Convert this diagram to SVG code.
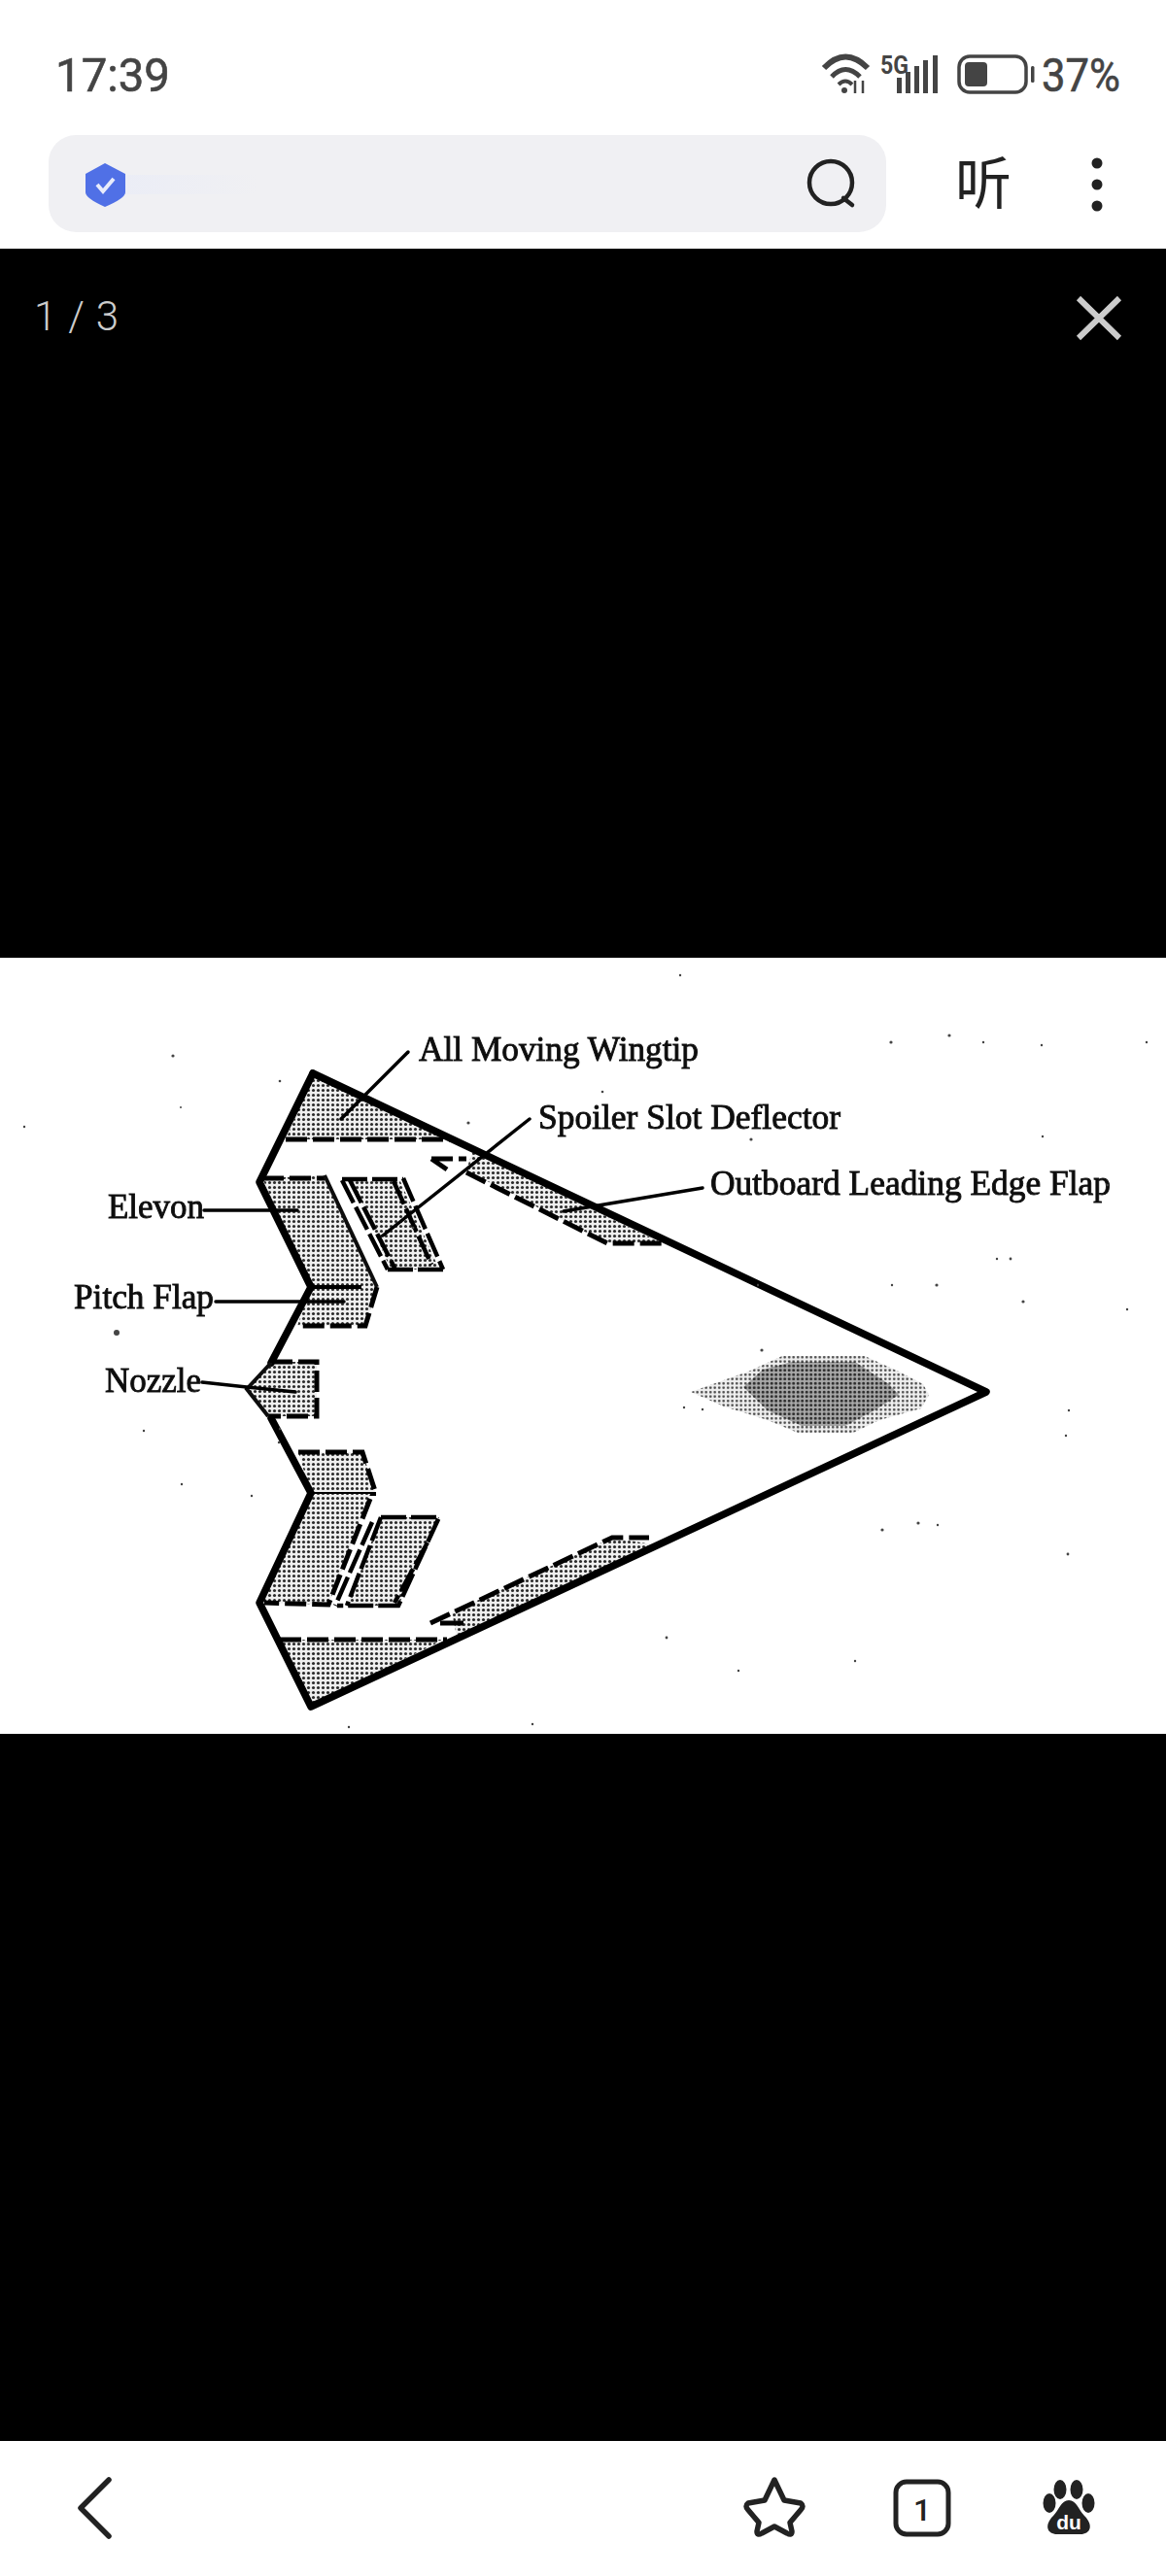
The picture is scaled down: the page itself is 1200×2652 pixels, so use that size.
<svg xmlns="http://www.w3.org/2000/svg" width="1200" height="2652" viewBox="0 0 1200 2652">
<style>
.ui{font-family:"Roboto","Liberation Sans",sans-serif}
.st{font-size:49px;fill:#444;stroke:#444;stroke-width:.6px}
.lab{font-family:"Liberation Serif","Times New Roman",serif;font-size:36px;fill:#111;stroke:#111;stroke-width:.9px}
.edge{fill:none;stroke:#000;stroke-width:7.5;stroke-linejoin:round;stroke-linecap:round}
.dash{fill:none;stroke:#000;stroke-width:5;stroke-dasharray:22 6}
.dash2{fill:none;stroke:#000;stroke-width:4.5;stroke-dasharray:26 5}
.shade{fill:url(#dots)}
.lead{fill:none;stroke:#000;stroke-width:3.5;stroke-linecap:round}
.ic{fill:none;stroke:#222;stroke-linecap:round;stroke-linejoin:round}
.sp{fill:#444}
</style>
<defs>
<pattern id="dots" width="5" height="5" patternUnits="userSpaceOnUse">
<rect width="5" height="5" fill="#efefef"/>
<circle cx="2.5" cy="2.5" r="1.55" fill="#2a2a2a"/>
</pattern>
<pattern id="dark" width="4.5" height="4.5" patternUnits="userSpaceOnUse">
<rect width="4.5" height="4.5" fill="#a8a8a8"/>
<circle cx="2.2" cy="2.2" r="1.5" fill="#2a2a2a"/>
</pattern>
<pattern id="lite" width="4.5" height="4.5" patternUnits="userSpaceOnUse">
<rect width="4.5" height="4.5" fill="#efefef"/>
<circle cx="2.2" cy="2.2" r="1.3" fill="#444"/>
</pattern>
<linearGradient id="barfade" x1="0" x2="1" y1="0" y2="0">
<stop offset="0" stop-color="#ebedf6"/>
<stop offset="1" stop-color="#f0f0f3"/>
</linearGradient>
<filter id="soft" x="-2%" y="-2%" width="104%" height="104%"><feGaussianBlur stdDeviation=".7"/></filter>
</defs>

<rect width="1200" height="2652" fill="#fff"/>
<rect y="256" width="1200" height="730" fill="#000"/>
<rect y="1785" width="1200" height="728" fill="#000"/>

<g id="status-bar">
<text class="ui st" x="57" y="94" textLength="118" lengthAdjust="spacingAndGlyphs">17:39</text>
<g id="wifi">
<path d="M848 70 Q870 47 893 70" stroke="#444" stroke-width="6" fill="none"/>
<path d="M856 79 Q870 64 885 79" stroke="#444" stroke-width="5" fill="none"/>
<path d="M863 87 Q870 80 877 87" stroke="#444" stroke-width="4" fill="none"/>
<circle cx="869" cy="93" r="3" fill="#444"/>
<path d="M880 83 V96 M888 83 V96" stroke="#444" stroke-width="2.5"/>
</g>
<text x="906" y="76" font-family="'Roboto',sans-serif" font-weight="700" font-size="26" fill="#444" textLength="29" lengthAdjust="spacingAndGlyphs">5G</text>
<g id="signal" fill="#444">
<rect x="923" y="80" width="5" height="16"/><rect x="932" y="74" width="5" height="22"/><rect x="941" y="68" width="5" height="28"/><rect x="950" y="62" width="5" height="34"/><rect x="960" y="57" width="5" height="39"/>
</g>
<g id="battery">
<rect x="987" y="58" width="69" height="37" rx="11" fill="none" stroke="#444" stroke-width="3.5"/>
<rect x="993" y="64" width="23" height="25" rx="4" fill="#444"/>
<rect x="1061" y="68" width="3.5" height="17" rx="1.5" fill="#444"/>
</g>
<text class="ui st" x="1072" y="94" textLength="81" lengthAdjust="spacingAndGlyphs">37%</text>
</g>

<g id="address-bar">
<rect x="50" y="139" width="862" height="100" rx="28" fill="#f0f0f3"/>
<rect x="125" y="180" width="140" height="20" fill="url(#barfade)"/>
<path d="M108 168 L129 179 V198 Q129 204 108 213 Q88 204 88 198 V179 Z" fill="#5070e6"/>
<path d="M100 190 L106 197 L117 184" fill="none" stroke="#e8ecfb" stroke-width="4"/>
<g class="ic" stroke-width="4.5"><ellipse cx="855" cy="188" rx="22" ry="22"/><path d="M868 204 L877 211"/></g>
<text x="1012" y="210" font-family="'Noto Sans CJK SC',sans-serif" font-size="58" text-anchor="middle" fill="#222">听</text>
<g fill="#222"><circle cx="1129" cy="168" r="5.5"/><circle cx="1129" cy="190" r="5.5"/><circle cx="1129" cy="212" r="5.5"/></g>
</g>

<g id="viewer-top">
<text class="ui" x="35" y="340" font-size="42" fill="#ccc" font-weight="300" textLength="87">1 / 3</text>
<path d="M1110 307 L1152 348 M1152 307 L1110 348" stroke="#ccc" stroke-width="6" fill="none"/>
</g>

<g id="figure" filter="url(#soft)">
<g id="fuselage-blob">
<path style="fill:url(#lite)" d="M711 1433 L770 1412 L805 1396 H890 L925 1412 L950 1425 L956 1436 L948 1450 L905 1462 L878 1475 H821 L790 1462 L745 1448 Z"/>
<path style="fill:url(#dark)" d="M765 1428 L785 1410 L815 1402 H880 L915 1425 L925 1436 L900 1452 L870 1468 H825 L790 1452 Z"/>
</g>

<g id="all-moving-wingtip-top">
<path class="shade" d="M322 1108 L294 1173 H465 Z"/>
<path class="dash" d="M294 1173 H468"/>
</g>
<g id="outboard-flap-top">
<path class="shade" d="M486 1186 L480 1205 L625 1280 H682 Z"/>
<path class="dash" d="M444 1193 H480 M444 1193 L460 1204 M480 1207 L625 1280 H682"/>
</g>
<g id="elevon-top">
<path class="shade" d="M270 1213 L334 1210 L388 1325 H320 Z"/>
<path class="dash" d="M270 1213 H334"/>
<path d="M334 1210 L388 1325" fill="none" stroke="#111" stroke-width="4"/>
</g>
<g id="spoiler-top">
<path class="shade" d="M363 1216 H412 L452 1307 H402 Z"/>
<path class="dash2" d="M352 1215 L399 1307 M360 1215 L407 1307 M352 1214 H415 M415 1213 L456 1307 M405 1216 L444 1302 M399 1307 H456"/>
</g>
<g id="pitch-flap-top">
<path class="shade" d="M320 1325 H388 L376 1365 H306 Z"/>
<path class="dash" d="M388 1325 L376 1365 H306"/>
<path d="M320 1325 H372" stroke="#000" stroke-width="4"/>
</g>
<g id="nozzle">
<path class="shade" d="M254 1430 L279 1402 H326 V1458 H276 Z"/>
<path class="dash" d="M279 1402 H326 V1458 H276"/>
</g>
<g id="pitch-flap-bottom">
<path class="shade" d="M307 1495 H373 L387 1538 H320 Z"/>
<path class="dash" d="M307 1495 H373 L387 1538"/>
<path d="M320 1538 H387" stroke="#000" stroke-width="4"/>
</g>
<g id="elevon-bottom">
<path class="shade" d="M320 1538 H381 L338 1652 L267 1650 Z"/>
<path class="dash" d="M381 1543 L338 1652 L272 1650"/>
</g>
<g id="spoiler-bottom">
<path class="shade" d="M392 1562 H452 L410 1653 H357 Z"/>
<path class="dash2" d="M392 1562 H452 L410 1653 H347 M392 1562 L357 1653 M383 1567 L345 1653 M440 1588 L406 1650"/>
</g>
<g id="all-moving-wingtip-bottom">
<path class="shade" d="M288 1688 H457 L320 1755 Z"/>
<path class="dash" d="M288 1688 H460"/>
</g>
<g id="outboard-flap-bottom">
<path class="shade" d="M470 1684 L465 1660 L630 1583 L672 1590 Z"/>
<path class="dash" d="M443 1671 L630 1583 H668"/>
<path d="M453 1671 H477" stroke="#000" stroke-width="5"/>
</g>

<g id="aircraft-outline">
<path class="edge" d="M322 1105 L1015 1433 L320 1757 L267 1650 L320 1537 L279 1460"/>
<path class="edge" d="M279 1403 L320 1325 L267 1217 L322 1105"/>
<path d="M279 1403 L254 1430 L276 1458" fill="none" stroke="#111" stroke-width="4"/>
</g>

<g id="connectors">
<path class="lead" d="M420 1083 L351 1152"/>
<path class="lead" d="M545 1152 L394 1272"/>
<path class="lead" d="M723 1223 L580 1247"/>
<path class="lead" d="M210 1246 H306"/>
<path class="lead" d="M222 1340 H354"/>
<path class="lead" d="M208 1423 L254 1428 L304 1433"/>
</g>

<g id="labels">
<g id="label-wingtip"><text class="lab" x="431" y="1092" textLength="288" lengthAdjust="spacingAndGlyphs">All Moving Wingtip</text></g>
<g id="label-spoiler"><text class="lab" x="554" y="1162" textLength="311" lengthAdjust="spacingAndGlyphs">Spoiler Slot Deflector</text></g>
<g id="label-flap"><text class="lab" x="731" y="1230" textLength="412" lengthAdjust="spacingAndGlyphs">Outboard Leading Edge Flap</text></g>
<g id="label-elevon"><text class="lab" x="111" y="1254" textLength="99" lengthAdjust="spacingAndGlyphs">Elevon</text></g>
<g id="label-pitch"><text class="lab" x="76" y="1347" textLength="144" lengthAdjust="spacingAndGlyphs">Pitch Flap</text></g>
<g id="label-nozzle"><text class="lab" x="108" y="1433" textLength="99" lengthAdjust="spacingAndGlyphs">Nozzle</text></g>
</g>

<g id="specks" class="sp">
<circle cx="178" cy="1087" r="1.6"/><circle cx="288" cy="1113" r="1.3"/><circle cx="186" cy="1140" r="1"/><circle cx="120" cy="1372" r="3"/><circle cx="482" cy="1156" r="1.6"/><circle cx="425" cy="1264" r="1.3"/><circle cx="620" cy="1124" r="1.3"/><circle cx="773" cy="1173" r="1.6"/><circle cx="917" cy="1073" r="1.6"/><circle cx="977" cy="1066" r="1.6"/><circle cx="1012" cy="1073" r="1.2"/><circle cx="1072" cy="1076" r="1.2"/><circle cx="1180" cy="1073" r="1.2"/><circle cx="1073" cy="1170" r="1.2"/><circle cx="1040" cy="1296" r="1.4"/><circle cx="1026" cy="1296" r="1.2"/><circle cx="964" cy="1323" r="1.6"/><circle cx="1053" cy="1340" r="1.6"/><circle cx="918" cy="1323" r="1.2"/><circle cx="1160" cy="1348" r="1.2"/><circle cx="784" cy="1390" r="1.6"/><circle cx="723" cy="1451" r="1.2"/><circle cx="704" cy="1449" r="1.2"/><circle cx="780" cy="1323" r="1.2"/><circle cx="628" cy="1596" r="1.2"/><circle cx="1100" cy="1452" r="1.2"/><circle cx="1097" cy="1478" r="1.2"/><circle cx="1099" cy="1600" r="1.4"/><circle cx="686" cy="1686" r="1.4"/><circle cx="908" cy="1575" r="1.6"/><circle cx="945" cy="1568" r="1.6"/><circle cx="965" cy="1570" r="1.2"/><circle cx="148" cy="1473" r="1.2"/><circle cx="288" cy="1471" r="1.2"/><circle cx="287" cy="1485" r="1.2"/><circle cx="187" cy="1528" r="1.2"/><circle cx="259" cy="1540" r="1.2"/><circle cx="359" cy="1778" r="1.2"/><circle cx="548" cy="1775" r="1.2"/><circle cx="1140" cy="1220" r="1.2"/><circle cx="25" cy="1160" r="1.2"/><circle cx="700" cy="1004" r="1.2"/><circle cx="880" cy="1710" r="1.2"/><circle cx="760" cy="1720" r="1.2"/>
</g>
</g>

<g id="bottom-nav">
<path class="ic" stroke-width="5.5" d="M112 2553 L83 2582 L112 2611" fill="none"/>
<path class="ic" stroke-width="5.5" d="M797 2553 L807 2574 L824 2577 Q828 2580 824 2584 L813 2597 L815 2606 Q815 2611 810 2608 L797 2601 L784 2608 Q779 2611 779 2606 L781 2597 L770 2584 Q766 2580 770 2577 L787 2574 Z"/>
<rect class="ic" x="922" y="2555" width="54" height="54" rx="11" stroke-width="5"/>
<text x="949" y="2595" font-family="'Roboto',sans-serif" font-weight="500" font-size="32" text-anchor="middle" fill="#222">1</text>
<g id="baidu" fill="#222">
<ellipse cx="1091" cy="2563" rx="6.5" ry="10"/><ellipse cx="1108" cy="2563" rx="6.5" ry="10"/>
<ellipse cx="1080" cy="2577" rx="6.5" ry="10"/><ellipse cx="1120" cy="2577" rx="6.5" ry="10"/>
<path d="M1100 2574 C1108 2574 1110 2584 1116 2590 C1126 2600 1122 2609 1112 2609 H1088 C1078 2609 1074 2600 1084 2590 C1090 2584 1092 2574 1100 2574 Z"/>
<text x="1100" y="2604" font-family="'Liberation Sans',sans-serif" font-weight="700" font-size="21" text-anchor="middle" fill="#fff">du</text>
</g>
</g>
</svg>
